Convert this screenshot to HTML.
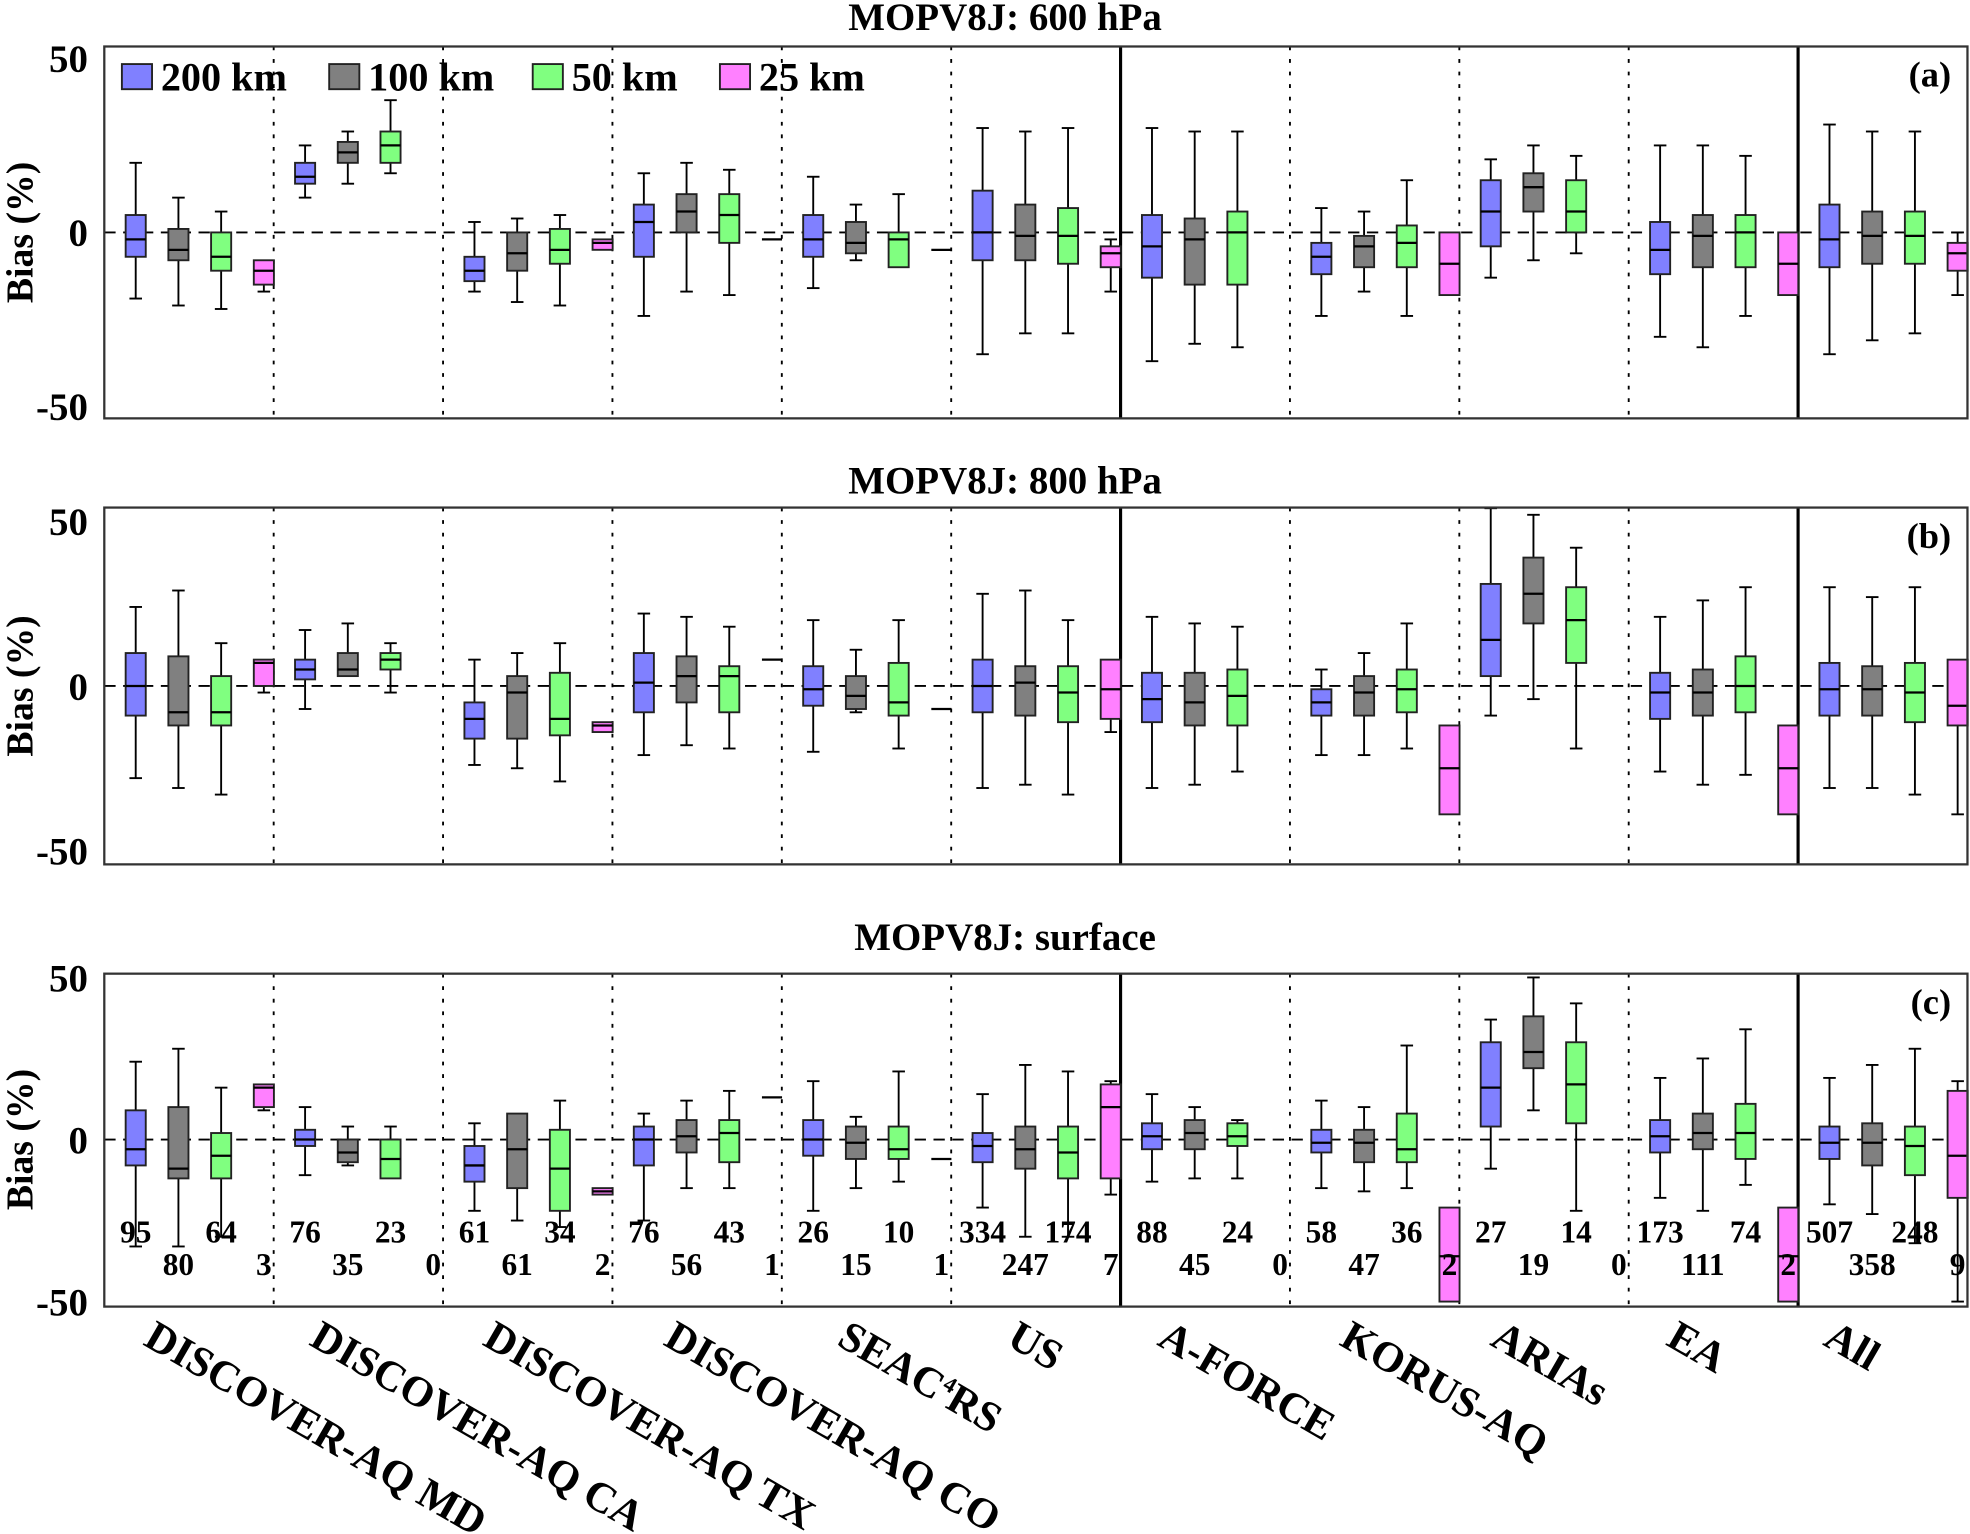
<!DOCTYPE html>
<html><head><meta charset="utf-8">
<style>
html,body{margin:0;padding:0;background:#fff;}
svg{display:block;}
text{font-family:"Liberation Serif",serif;font-weight:bold;fill:#000;}
</style></head>
<body>
<svg id="chart" width="1970" height="1534" viewBox="0 0 1568 1221" xmlns="http://www.w3.org/2000/svg"></svg>
<script>
// ---- data ----
const groups = ["DISCOVER-AQ MD","DISCOVER-AQ CA","DISCOVER-AQ TX","DISCOVER-AQ CO","SEAC4RS","US","A-FORCE","KORUS-AQ","ARIAs","EA","All"];
const resolutions = ["200 km","100 km","50 km","25 km"];
const panelTitles = ["MOPV8J: 600 hPa","MOPV8J: 800 hPa","MOPV8J: surface"];
const panelLetters = ["(a)","(b)","(c)"];
const yTicks = [50,0,-50];
// each entry: [upperWhisker, q3, median, q1, lowerWhisker] ; null = no data
const stats600 = [
 [[20,5,-2,-7,-19],[10,1,-5,-8,-21],[6,0,-7,-11,-22],[-8,-8,-11,-15,-17]],
 [[25,20,16,14,10],[29,26,23,20,14],[38,29,25,20,17],null],
 [[3,-7,-11,-14,-17],[4,0,-6,-11,-20],[5,1,-5,-9,-21],[-2,-2,-3,-5,-5]],
 [[17,8,3,-7,-24],[20,11,6,0,-17],[18,11,5,-3,-18],[-2,-2,-2,-2,-2]],
 [[16,5,-2,-7,-16],[8,3,-3,-6,-8],[11,0,-2,-10,-10],[-5,-5,-5,-5,-5]],
 [[30,12,0,-8,-35],[29,8,-1,-8,-29],[30,7,-1,-9,-29],[-2,-4,-6,-10,-17]],
 [[30,5,-4,-13,-37],[29,4,-2,-15,-32],[29,6,0,-15,-33],null],
 [[7,-3,-7,-12,-24],[6,-1,-4,-10,-17],[15,2,-3,-10,-24],[0,0,-9,-18,-18]],
 [[21,15,6,-4,-13],[25,17,13,6,-8],[22,15,6,0,-6],null],
 [[25,3,-5,-12,-30],[25,5,-1,-10,-33],[22,5,0,-10,-24],[0,0,-9,-18,-18]],
 [[31,8,-2,-10,-35],[29,6,-1,-9,-31],[29,6,-1,-9,-29],[0,-3,-6,-11,-18]]
];
const stats800 = [
 [[24,10,0,-9,-28],[29,9,-8,-12,-31],[13,3,-8,-12,-33],[8,8,7,0,-2]],
 [[17,8,5,2,-7],[19,10,5,3,3],[13,10,8,5,-2],null],
 [[8,-5,-10,-16,-24],[10,3,-2,-16,-25],[13,4,-10,-15,-29],[-11,-11,-12,-14,-14]],
 [[22,10,1,-8,-21],[21,9,3,-5,-18],[18,6,3,-8,-19],[8,8,8,8,8]],
 [[20,6,-1,-6,-20],[11,3,-3,-7,-8],[20,7,-5,-9,-19],[-7,-7,-7,-7,-7]],
 [[28,8,0,-8,-31],[29,6,1,-9,-30],[20,6,-2,-11,-33],[8,8,-1,-10,-14]],
 [[21,4,-4,-11,-31],[19,4,-5,-12,-30],[18,5,-3,-12,-26],null],
 [[5,-1,-5,-9,-21],[10,3,-2,-9,-21],[19,5,-1,-8,-19],[-12,-12,-25,-39,-39]],
 [[54,31,14,3,-9],[52,39,28,19,-4],[42,30,20,7,-19],null],
 [[21,4,-2,-10,-26],[26,5,-2,-9,-30],[30,9,0,-8,-27],[-12,-12,-25,-39,-39]],
 [[30,7,-1,-9,-31],[27,6,-1,-9,-31],[30,7,-2,-11,-33],[8,8,-6,-12,-39]]
];
const statsSfc = [
 [[24,9,-3,-8,-33],[28,10,-9,-12,-33],[16,2,-5,-12,-30],[17,17,16,10,9]],
 [[10,3,0,-2,-11],[4,0,-4,-7,-8],[4,0,-6,-12,-12],null],
 [[5,-2,-8,-13,-22],[8,8,-3,-15,-25],[12,3,-9,-22,-27],[-15,-15,-16,-17,-17]],
 [[8,4,0,-8,-25],[12,6,1,-4,-15],[15,6,2,-7,-15],[13,13,13,13,13]],
 [[18,6,0,-5,-22],[7,4,-1,-6,-15],[21,4,-3,-6,-13],[-6,-6,-6,-6,-6]],
 [[14,2,-2,-7,-21],[23,4,-3,-9,-30],[21,4,-4,-12,-30],[18,17,10,-12,-17]],
 [[14,5,1,-3,-13],[10,6,2,-3,-12],[6,5,1,-2,-12],null],
 [[12,3,-1,-4,-15],[10,3,-1,-7,-16],[29,8,-3,-7,-15],[-21,-21,-36,-50,-50]],
 [[37,30,16,4,-9],[50,38,27,22,9],[42,30,17,5,-22],null],
 [[19,6,1,-4,-18],[25,8,2,-3,-22],[34,11,2,-6,-14],[-21,-21,-36,-50,-50]],
 [[19,4,-1,-6,-20],[23,5,-1,-8,-23],[28,4,-2,-11,-32],[18,15,-5,-18,-50]]
];
const counts = [[95,80,64,3],[76,35,23,0],[61,61,34,2],[76,56,43,1],[26,15,10,1],[334,247,174,7],[88,45,24,0],[58,47,36,2],[27,19,14,0],[173,111,74,2],[507,358,248,9]];

// ---- layout ----
const colors = ["#8080ff","#808080","#80ff80","#ff80ff"];
const panels = [
 {top:37,bottom:333,y0:185,ppu:2.77,titleY:24,stats:stats600},
 {top:404,bottom:688,y0:546,ppu:2.62,titleY:393,stats:stats800},
 {top:775,bottom:1040,y0:907,ppu:2.58,titleY:756,stats:statsSfc}
];
const left=83, right=1566, groupW=(right-left)/11;
const svg=document.getElementById('chart');
const NS="http://www.w3.org/2000/svg";
function mk(tag,attrs,parent){const e=document.createElementNS(NS,tag);for(const k in attrs)e.setAttribute(k,attrs[k]);(parent||svg).appendChild(e);return e;}
function xBox(g,r){return left+g*groupW+17+r*34;}
function mkY(p){return v=>p.y0-v*p.ppu;}

panels.forEach((p,pi)=>{
 const Y=mkY(p);
 const grp=mk('g',{});
 
 
 const t=mk('text',{x:800,y:p.titleY,'text-anchor':'middle','font-size':31},grp);
 t.textContent=panelTitles[pi];
 
 
 for(let g=1;g<11;g++){
  const x=left+g*groupW;
  const solid=(g===6||g===10);
  const l=mk('line',{x1:x,x2:x,y1:p.top,y2:p.bottom,stroke:'#000','stroke-width':solid?2.5:1.5,'stroke-dasharray':solid?'none':'3,7'},grp);
  
  
 }
 const z=mk('line',{x1:left,x2:right,y1:Y(0),y2:Y(0),stroke:'#000','stroke-width':1.5,'stroke-dasharray':'9,6'},grp);
 
 
 p.stats.forEach((gs,g)=>{
  if(!gs)return;
  gs.forEach((s,r)=>{
   if(!s)return;
   const cx=xBox(g,r)+8;
   const b=mk('g',{},grp);
   
   
   if(s[1]===s[3]){
    mk('line',{x1:cx-8,x2:cx+8,y1:Y(s[2]),y2:Y(s[2]),stroke:'#000','stroke-width':1.8},b);return;
   }
   if(s[0]>s[1]){mk('line',{x1:cx,x2:cx,y1:Y(s[0]),y2:Y(s[1]),stroke:'#000','stroke-width':1.5},b);mk('line',{x1:cx-5,x2:cx+5,y1:Y(s[0]),y2:Y(s[0]),stroke:'#000','stroke-width':1.5},b);}
   if(s[4]<s[3]){mk('line',{x1:cx,x2:cx,y1:Y(s[3]),y2:Y(s[4]),stroke:'#000','stroke-width':1.5},b);mk('line',{x1:cx-5,x2:cx+5,y1:Y(s[4]),y2:Y(s[4]),stroke:'#000','stroke-width':1.5},b);}
   mk('rect',{x:cx-8,y:Y(s[1]),width:16,height:Y(s[3])-Y(s[1]),fill:colors[r],stroke:'#222','stroke-width':1.5},b);
   mk('line',{x1:cx-8,x2:cx+8,y1:Y(s[2]),y2:Y(s[2]),stroke:'#000','stroke-width':1.8},b);
  });
 });
 const fr=mk('rect',{x:left,y:p.top,width:right-left,height:p.bottom-p.top,fill:'none',stroke:'#333','stroke-width':1.8},grp);
 
 
 yTicks.forEach(v=>{
  const tt=mk('text',{x:70,y:Y(v)+11,'text-anchor':'end','font-size':31},grp);
  tt.textContent=v;
  
  
 });
 const yl=mk('text',{transform:`translate(26,${p.y0}) rotate(-90)`,'text-anchor':'middle','font-size':30},grp);
 yl.textContent='Bias (%)';
 
 
 const pl=mk('text',{x:1553,y:p.top+32,'text-anchor':'end','font-size':29},grp);
 pl.textContent=panelLetters[pi];
 
 
});

counts.forEach((cs,g)=>{
 cs.forEach((c,r)=>{
  const cx=xBox(g,r)+8;
  const t=mk('text',{x:cx,y:(r%2===0)?989:1015,'text-anchor':'middle','font-size':25});
  t.textContent=c;
  
  
 });
});

const legX=[97,262,424,573];
resolutions.forEach((r,i)=>{
 const lg=mk('g',{});
 
 
 mk('rect',{x:legX[i],y:51,width:24,height:20,fill:colors[i],stroke:'#222','stroke-width':1.5},lg);
 const t=mk('text',{x:legX[i]+31,y:72,'font-size':32},lg);
 t.textContent=r;
});

const xlabStart=[113,245,383,527,665,800,920,1065,1185,1325,1450];
groups.forEach((gname,g)=>{
 const t=mk('text',{transform:`translate(${xlabStart[g]},1070) rotate(30)`,'font-size':34});
 if(gname==='SEAC4RS'){t.innerHTML='SEAC<tspan font-size="18" dy="-12">4</tspan><tspan dy="12">RS</tspan>';}
 else t.textContent=gname;
 
 
});
</script>
</body></html>
